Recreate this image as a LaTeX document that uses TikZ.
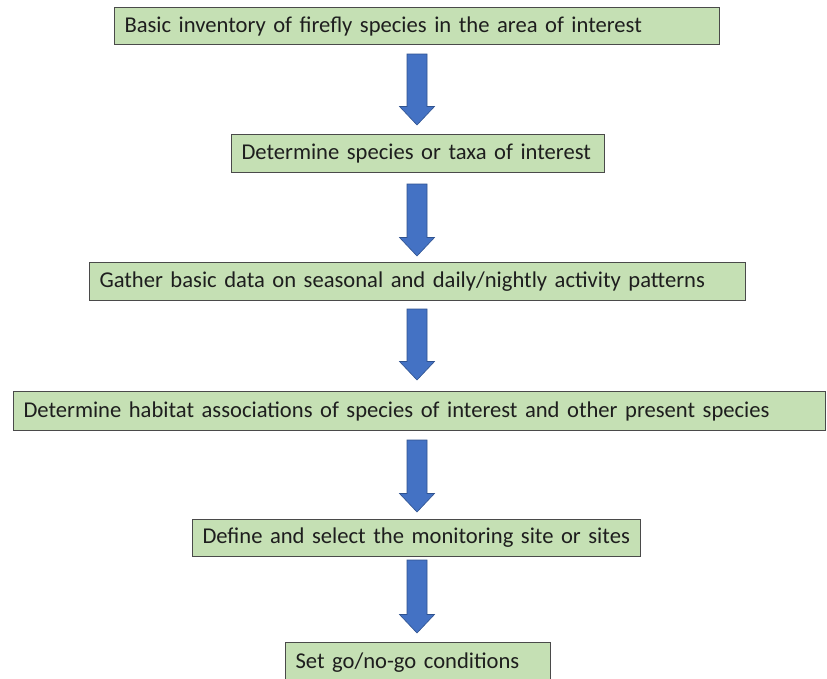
\documentclass[tikz,border=0pt]{standalone}
\usepackage{fontspec}
\setmainfont{Carlito}
\usetikzlibrary{calc}
\definecolor{boxfill}{HTML}{C5E0B4}
\definecolor{boxline}{HTML}{4A4A4A}
\definecolor{arrowfill}{HTML}{4472C4}
\definecolor{arrowline}{HTML}{2F528F}
\definecolor{txt}{HTML}{1E1E1E}
\tikzset{
  stepbox/.style={draw=boxline, fill=boxfill, line width=1pt, anchor=north west,
    inner xsep=10pt, inner ysep=0pt, align=left, text=txt,
    font=\fontsize{22.6}{26}\selectfont},
  blockarrow/.style={fill=arrowfill, draw=arrowline, line width=0.6pt}
}
\newcommand{\flowarrow}[2]{%
  \path[blockarrow] let \p1=(#1), \p2=(#2) in
    (\x1-10pt,\y1) -- (\x1+10pt,\y1) -- (\x1+10pt,\y2+18.5pt) -- (\x1+17.5pt,\y2+18.5pt)
    -- (\x1,\y2) -- (\x1-17.5pt,\y2+18.5pt) -- (\x1-10pt,\y2+18.5pt) -- cycle;}
\begin{document}
\begin{tikzpicture}[x=1pt,y=-1pt]
\useasboundingbox[fill=white] (0,0) rectangle (827,678);
\node[stepbox, text width=585pt, minimum height=37pt] (b1) at (114,7) {Basic inventory of firefly species in the area of interest};
\node[stepbox, text width=353pt, minimum height=38pt] (b2) at (231,134) {Determine species or taxa of interest};
\node[stepbox, text width=636pt, minimum height=38pt] (b3) at (89,262) {Gather basic data on seasonal and daily/nightly activity patterns};
\node[stepbox, text width=792pt, minimum height=39pt] (b4) at (13,391) {Determine habitat associations of species of interest and other present species};
\node[stepbox, text width=428pt, minimum height=37pt] (b5) at (192,519) {Define and select the monitoring site or sites};
\node[stepbox, text width=245pt, minimum height=40pt] (b6) at (285,642) {Set go/no-go conditions};
\coordinate (t1) at (417,54);  \coordinate (h1) at (417,125);
\coordinate (t2) at (417,184); \coordinate (h2) at (417,256);
\coordinate (t3) at (417,309); \coordinate (h3) at (417,380);
\coordinate (t4) at (417,440); \coordinate (h4) at (417,512);
\coordinate (t5) at (417,560); \coordinate (h5) at (417,633);
\flowarrow{t1}{h1}
\flowarrow{t2}{h2}
\flowarrow{t3}{h3}
\flowarrow{t4}{h4}
\flowarrow{t5}{h5}
\end{tikzpicture}
\end{document}
